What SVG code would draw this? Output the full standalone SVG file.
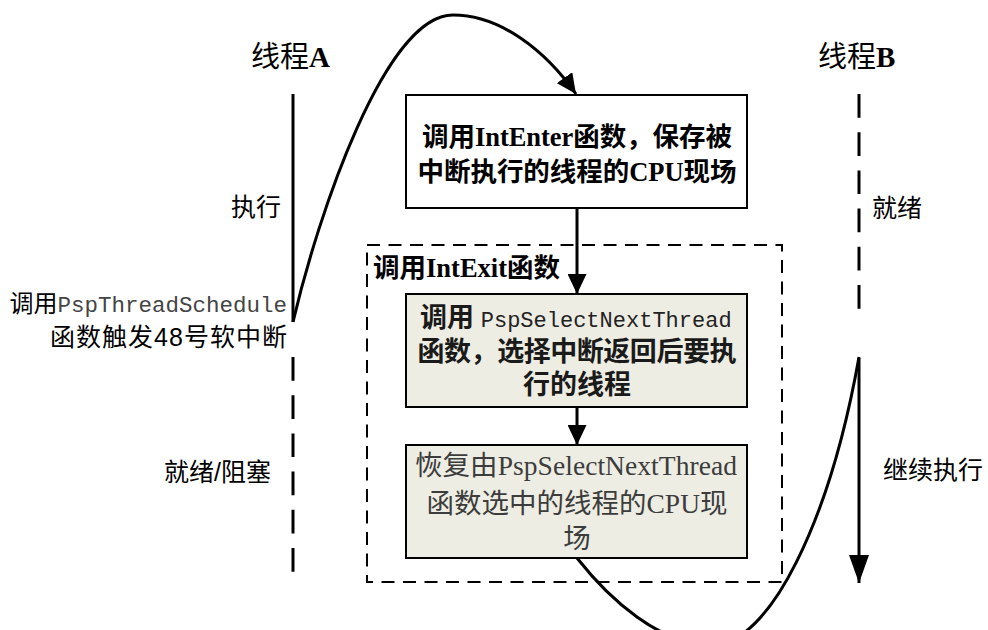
<svg xmlns="http://www.w3.org/2000/svg" width="988" height="630" viewBox="0 0 988 630">
<style>
.ser{font-family:"Liberation Serif","Noto Sans CJK SC","Times New Roman",serif;}
.sans{font-family:"Liberation Sans","Noto Sans CJK SC",sans-serif;}
.mono{font-family:"Liberation Mono","Noto Sans CJK SC","Courier New",monospace;}
.title{font-size:29px;fill:#000;}
.lbl{font-size:25px;fill:#000;}
.box{fill:#fff;stroke:#000;stroke-width:2;}
.gbox{fill:#EDEDE3;stroke:#000;stroke-width:2;}
.bt{font-size:26.5px;font-weight:bold;fill:#000;}
.g1{font-size:27px;font-weight:bold;fill:#1a1a1a;}
.g2{font-size:27.5px;fill:#3c3c3c;}
.line{fill:none;stroke:#000;stroke-width:3;}
.dash{fill:none;stroke:#000;stroke-width:3;stroke-dasharray:23.7 14.5;}
</style>
<defs>
<marker id="arr" markerUnits="userSpaceOnUse" markerWidth="20" markerHeight="19" refX="20" refY="9.5" orient="auto">
<path d="M0,0 L20,9.5 L0,19 z" fill="#000"/>
</marker>
<marker id="arrL" markerUnits="userSpaceOnUse" markerWidth="28" markerHeight="20" refX="28" refY="10" orient="auto">
<path d="M0,0 L28,10 L0,20 z" fill="#000"/>
</marker>
</defs>

<g id="threadA">
<text x="251" y="67" class="title ser">线程<tspan font-weight="bold">A</tspan></text>
<path class="line" d="M293,94 L293,322"/>
<path class="dash" d="M293,357 L293,572"/>
<text x="281" y="216" class="lbl sans" text-anchor="end">执行</text>
<text x="287" y="312" class="sans" text-anchor="end" font-size="24px">调用<tspan class="mono" font-size="22.5px" fill="#444">PspThreadSchedule</tspan></text>
<text x="287" y="346" class="lbl sans" text-anchor="end" textLength="237" lengthAdjust="spacing">函数触发48号软中断</text>
<text x="271" y="481" class="lbl sans" text-anchor="end">就绪/阻塞</text>
</g>

<g id="threadB">
<text x="818" y="67" class="title ser">线程<tspan font-weight="bold">B</tspan></text>
<path class="dash" d="M859,94 L859,310"/>
<text x="872" y="217" class="lbl sans">就绪</text>
<text x="883" y="479" class="lbl sans">继续执行</text>
</g>

<g id="intEnter">
<rect class="box" x="406" y="95" width="341" height="113"/>
<text x="577" y="146" class="bt ser" text-anchor="middle" textLength="310" lengthAdjust="spacing">调用IntEnter函数，保存被</text>
<text x="577" y="181" class="bt ser" text-anchor="middle" textLength="319" lengthAdjust="spacing">中断执行的线程的CPU现场</text>
</g>

<g id="intExit">
<rect x="367" y="245" width="415" height="337" fill="none" stroke="#000" stroke-width="2" stroke-dasharray="13 8.5"/>
<text x="373" y="277" class="bt ser" textLength="187" lengthAdjust="spacing">调用IntExit函数</text>
</g>

<g id="selectNext">
<rect class="gbox" x="406" y="294" width="341" height="113"/>
<text x="420" y="327" class="g1 ser">调用 <tspan class="mono" font-weight="normal" font-size="22px" fill="#222">PspSelectNextThread</tspan></text>
<text x="577" y="361" class="g1 ser" text-anchor="middle" textLength="319" lengthAdjust="spacing">函数，选择中断返回后要执</text>
<text x="577" y="394" class="g1 ser" text-anchor="middle">行的线程</text>
</g>

<g id="restore">
<rect class="gbox" x="406" y="445" width="341" height="113"/>
<text x="576" y="475" class="g2 ser" text-anchor="middle" textLength="322" lengthAdjust="spacing">恢复由PspSelectNextThread</text>
<text x="577" y="513" class="g2 ser" text-anchor="middle" textLength="301" lengthAdjust="spacing">函数选中的线程的CPU现</text>
<text x="577" y="548" class="g2 ser" text-anchor="middle">场</text>
</g>

<g id="connectors">
<path class="line" d="M293,322 C318,215 385,15 453,15 C500,15 545,50 576,94" marker-end="url(#arr)"/>
<path class="line" d="M577,208 L577,294" marker-end="url(#arr)"/>
<path class="line" d="M577,407 L577,445" marker-end="url(#arr)"/>
<path class="line" d="M577,558 C610,600 660,645 712,645 C770,645 830,520 859,357"/>
<path class="line" d="M859,358 L859,583" marker-end="url(#arrL)"/>
</g>
</svg>
